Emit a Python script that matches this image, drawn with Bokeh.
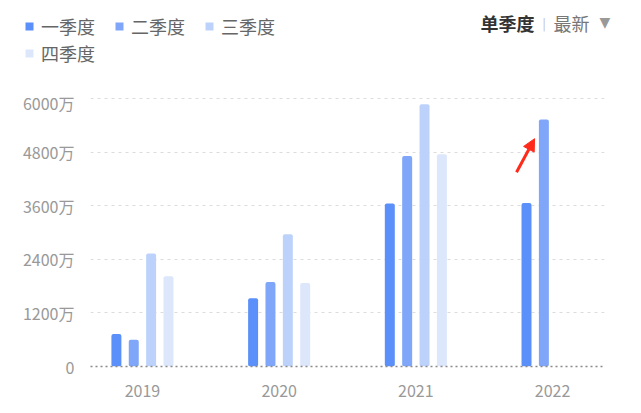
import math
from bokeh.plotting import figure
from bokeh.layouts import column
from bokeh.models import (ColumnDataSource, Range1d, FixedTicker, Legend, LegendItem,
                          Label, Arrow, NormalHead)
from bokeh.transform import dodge
from bokeh.embed import file_html
from bokeh.resources import INLINE

# ---- data (万) ----
years = ["2019", "2020", "2021", "2022"]
q1 = [730, 1530, 3650, 3660]
q2 = [600, 1890, 4710, 5530]
q3 = [2530, 2960, 5870, math.nan]
q4 = [2020, 1870, 4750, math.nan]
series_names = ["一季度", "二季度", "三季度", "四季度"]
series_colors = ["#5B8FF9", "#7FA6F9", "#BDD2FB", "#DDE7FC"]
y_ticks = [0, 1200, 2400, 3600, 4800, 6000]
y_tick_labels = ["0", "1200万", "2400万", "3600万", "4800万", "6000万"]
header_texts = ["单季度", "|", "最新", "▼"]

FONT = "Noto Sans CJK SC"
W = 636
HEAD_H = 90
MAIN_H = 318
FRAME_H = MAIN_H - 42          # main frame height in px
TOP_PAD = 8                    # px between frame top and the top tick

# ---------------- header (legend + selector) ----------------
h = figure(width=W, height=HEAD_H, output_backend="svg", toolbar_location=None,
           x_range=Range1d(0, W), y_range=Range1d(0, HEAD_H),
           x_axis_type=None, y_axis_type=None,
           min_border=0, min_border_left=0, min_border_right=0,
           min_border_top=0, min_border_bottom=0)
h.frame_align = False
h.outline_line_color = None
h.grid.visible = False

hsrc = ColumnDataSource(dict(x=[math.nan], top=[math.nan]))
hrs = [h.vbar(x="x", top="top", width=1, source=hsrc, fill_color=c, line_color=None)
       for c in series_colors]
items = [LegendItem(label=n, renderers=[r]) for n, r in zip(series_names, hrs)]


def make_legend(its, loc):
    lg = Legend(items=its, location=loc, orientation="horizontal",
                glyph_width=10, glyph_height=10, label_standoff=7, spacing=19,
                padding=0, margin=0, border_line_color=None, background_fill_alpha=0,
                label_text_font=FONT, label_text_font_size="18px",
                label_text_color="#666666", label_height=22)
    h.add_layout(lg, "center")
    return lg


make_legend(items[:3], (24, 51))
make_legend(items[3:], (24, 24))

h.add_layout(Label(x=480, y=68, x_units="screen", y_units="screen", text=header_texts[0],
                   text_font=FONT, text_font_size="18px", text_font_style="bold",
                   text_color="#333333", text_baseline="middle"))
h.add_layout(Label(x=542, y=68, x_units="screen", y_units="screen", text=header_texts[1],
                   text_font=FONT, text_font_size="12px",
                   text_color="#bbbbbb", text_baseline="middle"))
h.add_layout(Label(x=553, y=68, x_units="screen", y_units="screen", text=header_texts[2],
                   text_font=FONT, text_font_size="18px",
                   text_color="#777777", text_baseline="middle"))
h.add_layout(Label(x=599, y=69, x_units="screen", y_units="screen", text=header_texts[3],
                   text_font="DejaVu Sans", text_font_size="14px",
                   text_color="#999999", text_baseline="middle"))

# ---------------- main chart ----------------
src = ColumnDataSource(dict(x=list(range(len(years))), q1=q1, q2=q2, q3=q3, q4=q4))

y_end = y_ticks[-1] * FRAME_H / (FRAME_H - TOP_PAD)
p = figure(width=W, height=MAIN_H, output_backend="svg", toolbar_location=None,
           x_range=Range1d(-0.38, len(years) - 1 + 0.38), y_range=Range1d(0, y_end),
           min_border_left=90, min_border_right=W - 604, min_border_top=0,
           min_border_bottom=42)
p.frame_align = False
p.outline_line_color = None

p.xaxis.ticker = FixedTicker(ticks=list(range(len(years))))
p.xaxis.major_label_overrides = {i: y for i, y in enumerate(years)}
p.xaxis.major_tick_line_color = None
p.xaxis.minor_tick_line_color = None
p.xaxis.axis_line_color = "#8a8a8a"
p.xaxis.axis_line_dash = "2 3"
p.xaxis.axis_line_width = 1.5
p.xaxis.major_label_standoff = 12
p.xaxis.major_label_text_font = FONT
p.xaxis.major_label_text_font_size = "16px"
p.xaxis.major_label_text_color = "#999999"

p.yaxis.ticker = FixedTicker(ticks=y_ticks)
p.yaxis.major_label_overrides = dict(zip(y_ticks, y_tick_labels))
p.yaxis.major_tick_line_color = None
p.yaxis.minor_tick_line_color = None
p.yaxis.axis_line_color = None
p.yaxis.major_label_standoff = 10
p.yaxis.major_label_text_font = FONT
p.yaxis.major_label_text_font_size = "16px"
p.yaxis.major_label_text_color = "#999999"

p.xgrid.grid_line_color = None
p.ygrid.ticker = FixedTicker(ticks=y_ticks[1:])
p.ygrid.grid_line_color = "#dcdcdc"
p.ygrid.grid_line_dash = "3 4"
p.ygrid.grid_line_width = 1

step = 0.127
bw = 0.073
offsets = [-1.5 * step, -0.5 * step, 0.5 * step, 1.5 * step]
fields = ["q1", "q2", "q3", "q4"]
for f, off, col in zip(fields, offsets, series_colors):
    p.vbar(x=dodge("x", off), top=f, width=bw, source=src,
           fill_color=col, line_color=None, border_radius=2)

# red arrow pointing at the latest Q2 bar
tip_x = len(years) - 1 + offsets[1] - 0.068
tip_y = q2[-1] - 430
p.add_layout(Arrow(end=NormalHead(size=12, fill_color="#ff2a1a", line_color="#ff2a1a"),
                   x_start=tip_x - 0.132, y_start=tip_y - 750, x_end=tip_x, y_end=tip_y,
                   line_color="#ff2a1a", line_width=3))

layout = column(h, p, spacing=0)
open("out.html", "w").write(file_html(layout, INLINE))
